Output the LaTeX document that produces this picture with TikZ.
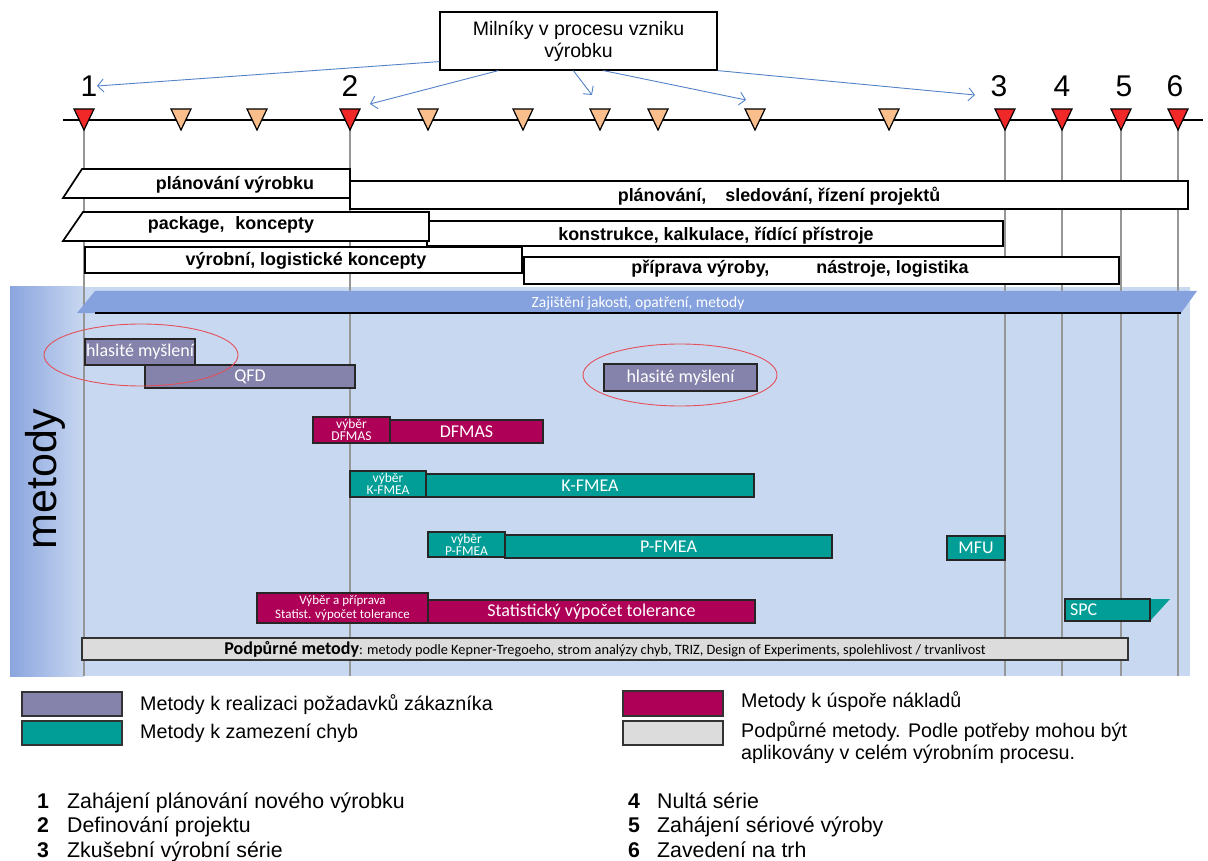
\documentclass[tikz,border=0pt]{standalone}
\usepackage{fontspec}
\setmainfont{Liberation Sans}
\newfontfamily\carl{Carlito}
\usetikzlibrary{arrows.meta}
\definecolor{mpurple}{RGB}{133,131,171}
\definecolor{mmagenta}{RGB}{175,0,88}
\definecolor{mteal}{RGB}{0,158,150}
\definecolor{mgray}{RGB}{220,220,220}
\definecolor{panelblue}{RGB}{201,216,241}
\definecolor{stripblue}{RGB}{138,165,222}
\definecolor{qblue}{RGB}{133,162,222}
\definecolor{tored}{RGB}{240,40,40}
\definecolor{toorange}{RGB}{250,190,140}
\definecolor{arrblue}{RGB}{84,130,200}
\definecolor{ellred}{RGB}{228,80,90}
\definecolor{vgray}{RGB}{150,150,150}
\newcommand\fs[2]{\fontsize{#1}{#2}\selectfont}
\begin{document}
\begin{tikzpicture}[x=1pt,y=-1pt,
  tbar/.style={draw=black,line width=1.7pt,fill=white,line join=miter},
  tlabel/.style={font=\bfseries\fs{17.9}{20},inner sep=0pt},
  mbar/.style={draw=black!85,line width=1.4pt,inner sep=0pt,text=white,font=\carl\fs{18}{20}},
  pur/.style={mbar,fill=mpurple},
  mag/.style={mbar,fill=mmagenta},
  tea/.style={mbar,fill=mteal},
  sel/.style={align=center,font=\carl\fs{13.5}{12}},
  tri/.style={draw=black,line width=1.2pt,line join=miter},
  arr/.style={draw=arrblue,line width=0.9pt,-{Straight Barb[length=6pt,width=13pt]}},
  vline/.style={draw=vgray,line width=1.8pt},
  leg/.style={anchor=west,font=\fs{19.7}{22},inner sep=0pt},
  num/.style={anchor=base west,font=\fs{21.3}{24},inner sep=0pt},
  swatch/.style={draw=black!80,line width=1.2pt},
  ell/.style={draw=ellred,line width=0.9pt}
]
\useasboundingbox (0,0) rectangle (1208,861);
% methods panel
\fill[panelblue] (10,287) rectangle (1190,676);
\shade[left color=stripblue,right color=panelblue] (10,287) rectangle (84,676);
\node[rotate=90,font=\fs{43}{43}] (metody) at (45,479) {metody};
% vertical milestone lines
\foreach \x in {84,350,1005,1062,1121,1178} \draw[vline] (\x,130) -- (\x,676);
% timeline
\draw[line width=1.3pt] (63,120) -- (1203,120);
\foreach \x in {181,257,428,523,600,658,755,889}
  \filldraw[tri,fill=toorange] (\x-10,109) -- (\x+10,109) -- (\x,130) -- cycle;
\foreach \x in {84,350,1005,1062,1121,1178}
  \filldraw[tri,fill=tored] (\x-10,109) -- (\x+10,109) -- (\x,130) -- cycle;
\foreach \n/\x in {1/89,2/350,3/999,4/1062,5/1124,6/1175}
  \node[font=\fs{30}{30}] (m\n) at (\x,86) {\n};
% milestones box and arrows
\node[draw,line width=1.2pt,fill=white,minimum width=277pt,minimum height=58pt,align=center,font=\fs{19.5}{22}] (ms) at (578.5,41) {Milníky v procesu vzniku\\výrobku};
\coordinate (t1) at (97,86);
\coordinate (t2) at (370,104);
\coordinate (t3) at (592,95);
\coordinate (t4) at (746,100);
\coordinate (t5) at (975,95);
\draw[arr] ([yshift=9pt]ms.south west) -- (t1);
\draw[arr] ([xshift=59pt]ms.south west) -- (t2);
\draw[arr] ([xshift=134pt]ms.south west) -- (t3);
\draw[arr] ([xshift=164pt]ms.south west) -- (t4);
\draw[arr] (ms.south east) -- (t5);
% phase bars
\draw[tbar] (350,181) rectangle (1188,209);
\node[tlabel] (psr) at (779,196) {plánování,\hspace{14pt} sledování, řízení projektů};
\draw[tbar] (82,169) -- (350,169) -- (350,198) -- (63,198) -- cycle;
\node[tlabel] (pv) at (235,185) {plánování výrobku};
\draw[tbar] (427,221) rectangle (1003,246);
\node[tlabel] (kkr) at (716,236) {konstrukce, kalkulace, řídící přístroje};
\draw[tbar] (83,212) -- (429,212) -- (429,241) -- (63,241) -- cycle;
\node[tlabel] (pk) at (231,225) {package,\hspace{6pt} koncepty};
\draw[tbar] (524,257) rectangle (1119,284);
\node[tlabel] (pvn) at (800,269) {příprava výroby,\hspace{42pt} nástroje, logistika};
\draw[tbar] (85,247) rectangle (522,273);
\node[tlabel] (vlk) at (306,261) {výrobní, logistické koncepty};
% quality bar
\fill[qblue] (77,313) -- (95,291) -- (1197,291) -- (1181,313) -- cycle;
\draw[line width=1.2pt] (95,313) -- (1181,313);
\node[text=white,font=\carl\fs{15.5}{16}] (qa) at (638,303) {Zajištění jakosti, opatření, metody};
% method bars
\node[pur,minimum width=210pt,minimum height=23pt] (qfd) at (250,376.5) {QFD};
\node[pur,minimum width=110pt,minimum height=26pt] (hm1) at (140,352) {hlasité myšlení};
\node[pur,minimum width=153pt,minimum height=27pt] (hm2) at (680.5,377.5) {hlasité myšlení};
\node[mag,minimum width=153pt,minimum height=23pt] (dfmas) at (466.5,431.5) {DFMAS};
\node[mag,sel,minimum width=77pt,minimum height=26pt] (vdfmas) at (351.5,430) {výběr\\DFMAS};
\node[tea,minimum width=328pt,minimum height=23pt] (kf) at (590,485.5) {K-FMEA};
\node[tea,sel,minimum width=76pt,minimum height=26pt] (vkf) at (388,484) {výběr\\K-FMEA};
\node[tea,minimum width=327pt,minimum height=23pt] (pf) at (668.5,546.5) {P-FMEA};
\node[tea,sel,minimum width=77pt,minimum height=25pt] (vpf) at (466.5,544.5) {výběr\\P-FMEA};
\node[tea,minimum width=58pt,minimum height=24pt] (mfu) at (976,548) {MFU};
\node[mag,minimum width=327pt,minimum height=23pt] (st) at (591.5,611.5) {Statistický výpočet tolerance};
\node[mag,sel,font=\carl\fs{13}{13.5},minimum width=171pt,minimum height=30pt] (vst) at (342.5,608) {Výběr a příprava\\Statist. výpočet tolerance};
\fill[mteal] (1150,599) -- (1170,599) -- (1150,621) -- cycle;
\node[tea,minimum width=85pt,minimum height=22pt,text width=75pt,align=left] (spc) at (1107.5,610) {SPC};
\node[draw=black!80,line width=1.4pt,fill=mgray,minimum width=1046pt,minimum height=22pt,inner sep=0pt,font=\carl\fs{14.3}{15}] (pod) at (605,649) {{\bfseries\fs{18}{18}Podpůrné metody}: metody podle Kepner-Tregoeho, strom analýzy chyb, TRIZ, Design of Experiments, spolehlivost / trvanlivost};
% ellipses
\draw[ell] (141,355) ellipse [x radius=97pt, y radius=31pt];
\draw[ell] (680,375) ellipse [x radius=97pt, y radius=31pt];
% legend
\draw[swatch,fill=mpurple] (22,692) rectangle (122,716);
\draw[swatch,fill=mteal] (22,721) rectangle (122,745);
\draw[swatch,fill=mmagenta] (623,691) rectangle (723,716);
\draw[swatch,fill=mgray] (623,721) rectangle (723,745);
\node[leg] (l1) at (140,705) {Metody k realizaci požadavků zákazníka};
\node[leg] (l2) at (140,733) {Metody k zamezení chyb};
\node[leg] (l3) at (741,702) {Metody k úspoře nákladů};
\node[leg,align=left] (l4) at (741,743) {Podpůrné metody. Podle potřeby mohou být\\aplikovány v celém výrobním procesu.};
% numbered list
\foreach \n/\y/\txt in {1/808/Zahájení plánování nového výrobku,2/832/Definování projektu,3/857/Zkušební výrobní série}{
  \node[num,font=\bfseries\fs{21.3}{24}] (n\n) at (37,\y) {\n};
  \node[num] (d\n) at (67,\y) {\txt};}
\foreach \n/\y/\txt in {4/808/Nultá série,5/832/Zahájení sériové výroby,6/857/Zavedení na trh}{
  \node[num,font=\bfseries\fs{21.3}{24}] (n\n) at (628,\y) {\n};
  \node[num] (d\n) at (657,\y) {\txt};}
\end{tikzpicture}
\end{document}
